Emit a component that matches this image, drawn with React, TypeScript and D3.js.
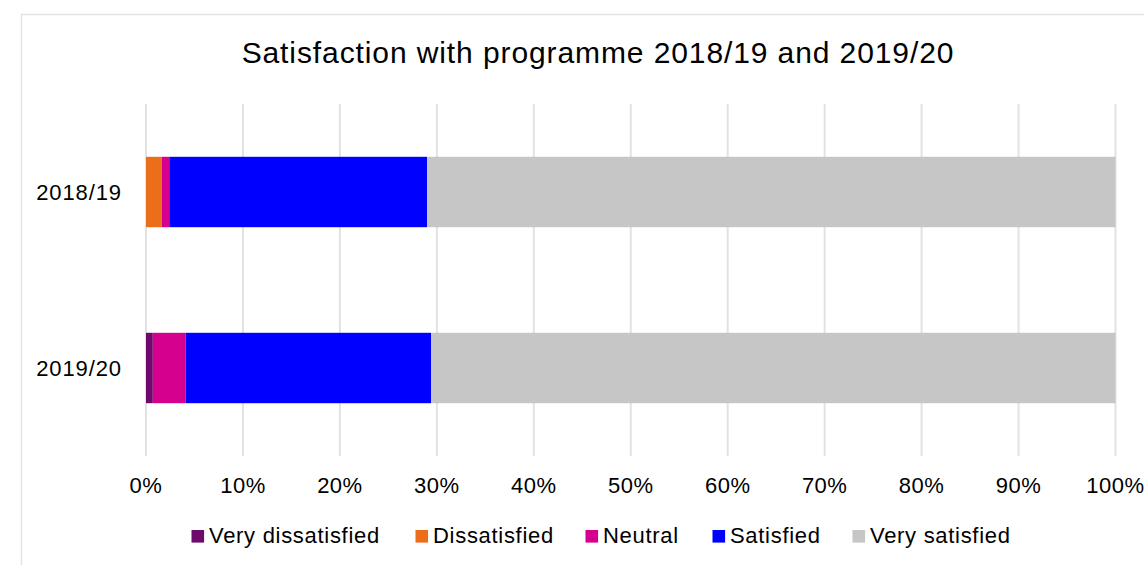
import React from "react";
import * as d3 from "d3";

const categories = ["2018/19", "2019/20"];
const seriesNames = ["Very dissatisfied", "Dissatisfied", "Neutral", "Satisfied", "Very satisfied"];
const veryDissatisfied = [0, 0.7];
const dissatisfied = [1.6, 0];
const neutral = [0.8, 3.4];
const satisfied = [26.6, 25.3];
const verySatisfied = [71.0, 70.6];
const colors = ["#6E0A6E", "#EC6E1A", "#D6008F", "#0000FF", "#C6C6C6"];
const xTicks = [0, 10, 20, 30, 40, 50, 60, 70, 80, 90, 100];

const W = 1144, H = 565;
const FONT = "'Liberation Sans', Arial, Helvetica, sans-serif";

export default function App() {
  const x = d3.scaleLinear().domain([0, 100]).range([146, 1115.5]);
  const y = d3.scaleBand().domain(categories).range([104, 456]).paddingInner(0.6).paddingOuter(0.3);
  const rows = categories.map((c, i) => ({
    cat: c,
    "Very dissatisfied": veryDissatisfied[i],
    Dissatisfied: dissatisfied[i],
    Neutral: neutral[i],
    Satisfied: satisfied[i],
    "Very satisfied": verySatisfied[i],
  }));
  const stack = d3.stack<any>().keys(seriesNames)(rows);
  const legendTextX = [209, 433, 603, 730, 870];
  return (
    <svg width={W} height={H} style={{ position: "absolute", left: 0, top: 0, background: "#fff" }}>
      <rect x={21.5} y={14.5} width={1200} height={600} fill="#fff" stroke="#e3e3e3" strokeWidth={1.5} />
      <text x={598} y={63} textAnchor="middle" fontFamily={FONT} fontSize={30} letterSpacing={0.9} fill="#000">
        Satisfaction with programme 2018/19 and 2019/20
      </text>
      {xTicks.map((t) => (
        <line key={t} x1={x(t)} x2={x(t)} y1={104} y2={456} stroke="#e2e2e2" strokeWidth={2} />
      ))}
      {stack.map((s, si) =>
        s.map((d, di) => (
          <rect
            key={si + "-" + di}
            x={x(d[0])}
            y={y(categories[di])!}
            width={Math.max(0, x(d[1]) - x(d[0]))}
            height={y.bandwidth()}
            fill={colors[si]}
          />
        ))
      )}
      {categories.map((c) => (
        <text key={c} x={122} y={y(c)! + y.bandwidth() / 2 + 7.5} textAnchor="end" fontFamily={FONT} fontSize={22} letterSpacing={0.9} fill="#000">
          {c}
        </text>
      ))}
      {xTicks.map((t) => (
        <text key={t} x={x(t)} y={493} textAnchor="middle" fontFamily={FONT} fontSize={22} letterSpacing={0.5} fill="#000">
          {t + "%"}
        </text>
      ))}
      {seriesNames.map((n, i) => (
        <g key={n}>
          <rect x={legendTextX[i] - 17.5} y={530} width={12.6} height={12.6} fill={colors[i]} />
          <text x={legendTextX[i]} y={542.7} fontFamily={FONT} fontSize={22} letterSpacing={0.7} fill="#000">
            {n}
          </text>
        </g>
      ))}
    </svg>
  );
}
